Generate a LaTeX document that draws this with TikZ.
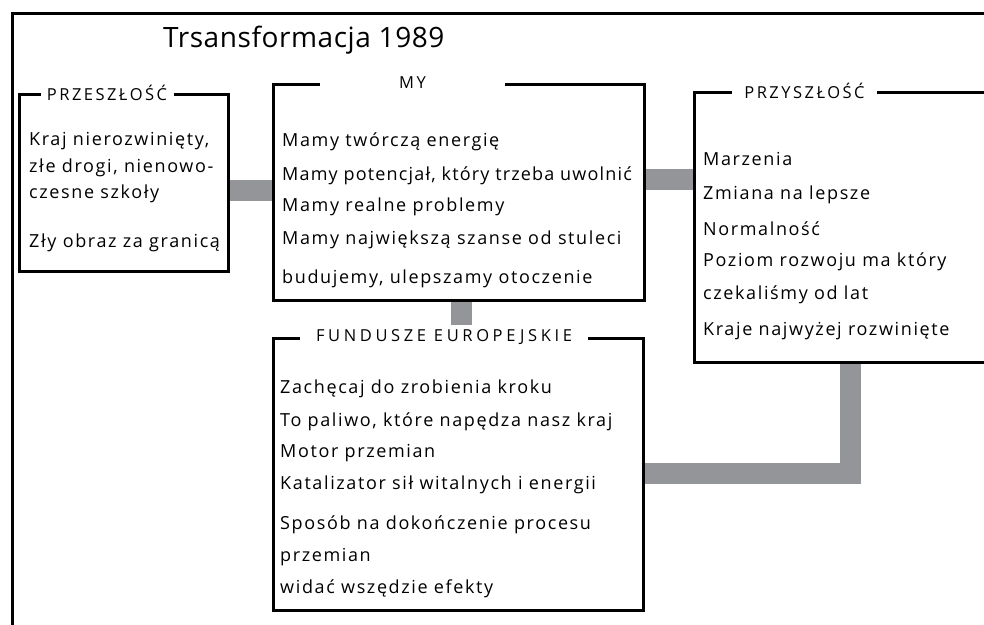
\documentclass[tikz,border=0pt]{standalone}
\usepackage{fontspec}
\setmainfont{Open Sans}[LetterSpace=9]
\newfontfamily\labelfont{Open Sans}[LetterSpace=15]
\newfontfamily\titlefont{Open Sans}[LetterSpace=2]
\begin{document}
\begin{tikzpicture}[x=1pt,y=-1pt,
  frame/.style={draw=black,line width=3pt},
  panel/.style={draw=black,line width=2.8pt,fill=none,inner sep=0pt,anchor=north west},
  heading/.style={fill=white,inner sep=0pt,minimum height=10pt,font=\labelfont\fontsize{16.5}{19}\selectfont},
  entry/.style={anchor=base west,inner sep=0pt,font=\fontsize{18}{21}\selectfont},
  bar/.style={draw=barcolor,line width=21pt},
]
\definecolor{barcolor}{HTML}{939598}
\useasboundingbox (0,0) rectangle (984,624);
\clip (0,0) rectangle (984,624);
\fill[white] (0,0) rectangle (984,624);

% outer frame (runs off the page on the right and at the bottom)
\draw[frame] (12,700) -- (12,13) -- (1000,13);
\node[anchor=base west,inner sep=0pt,font=\titlefont\fontsize{28}{32}\selectfont] (title) at (163,47) {Trsansformacja 1989};

% panels
\node[panel,minimum width=209pt,minimum height=177pt] (pz) at (18,93) {};
\node[panel,minimum width=371pt,minimum height=216pt] (my) at (272,83) {};
\node[panel,minimum width=330pt,minimum height=270pt] (pr) at (693,91) {};
\node[panel,minimum width=370pt,minimum height=272pt] (fe) at (272,337) {};

% connectors
\draw[bar] (my.west |- 0,190) -- (pz.east |- 0,190);
\draw[bar] (my.east |- 0,179.5) -- (pr.west |- 0,179.5);
\draw[bar] (fe.east |- 0,473) -- (850,473) -- (pr.south -| 850,0);

% panel headings
\node[heading,minimum width=133pt] (pzh) at (107,93) {PRZESZŁOŚĆ};
\node[heading,minimum width=185pt] (myh) at (412.5,83) {MY};
\node[heading,minimum width=145pt] (prh) at (804.5,91) {PRZYSZŁOŚĆ};
\node[heading,minimum width=288pt] (feh) at (444,337) {\addfontfeature{LetterSpace=22}FUNDUSZE EUROPEJSKIE};
\draw[bar] (my.south -| 461,0) -- (461,325);

% past
\node[entry] (pz1) at (29,145) {Kraj nierozwinięty,};
\node[entry] (pz2) at (29,172) {złe drogi, nienowo-};
\node[entry] (pz3) at (29,198) {czesne szkoły};
\node[entry] (pz4) at (29,247) {Zły obraz za granicą};

% us
\node[entry] (my1) at (282,146) {Mamy twórczą energię};
\node[entry] (my2) at (282,180) {\addfontfeature{LetterSpace=6.5}Mamy potencjał, który trzeba uwolnić};
\node[entry] (my3) at (282,211) {Mamy realne problemy};
\node[entry] (my4) at (282,244) {Mamy największą szanse od stuleci};
\node[entry] (my5) at (282,283) {budujemy, ulepszamy otoczenie};

% future
\node[entry] (pr1) at (703,165) {Marzenia};
\node[entry] (pr2) at (703,199) {Zmiana na lepsze};
\node[entry] (pr3) at (703,235) {Normalność};
\node[entry] (pr4) at (703,266) {Poziom rozwoju ma który};
\node[entry] (pr5) at (703,299) {czekaliśmy od lat};
\node[entry] (pr6) at (703,335) {Kraje najwyżej rozwinięte};

% european funds
\node[entry] (fe1) at (280,393) {Zachęcaj do zrobienia kroku};
\node[entry] (fe2) at (280,426) {To paliwo, które napędza nasz kraj};
\node[entry] (fe3) at (280,457) {Motor przemian};
\node[entry] (fe4) at (280,489) {Katalizator sił witalnych i energii};
\node[entry] (fe5) at (280,529) {Sposób na dokończenie procesu};
\node[entry] (fe6) at (280,561) {przemian};
\node[entry] (fe7) at (280,593) {widać wszędzie efekty};
\end{tikzpicture}
\end{document}
